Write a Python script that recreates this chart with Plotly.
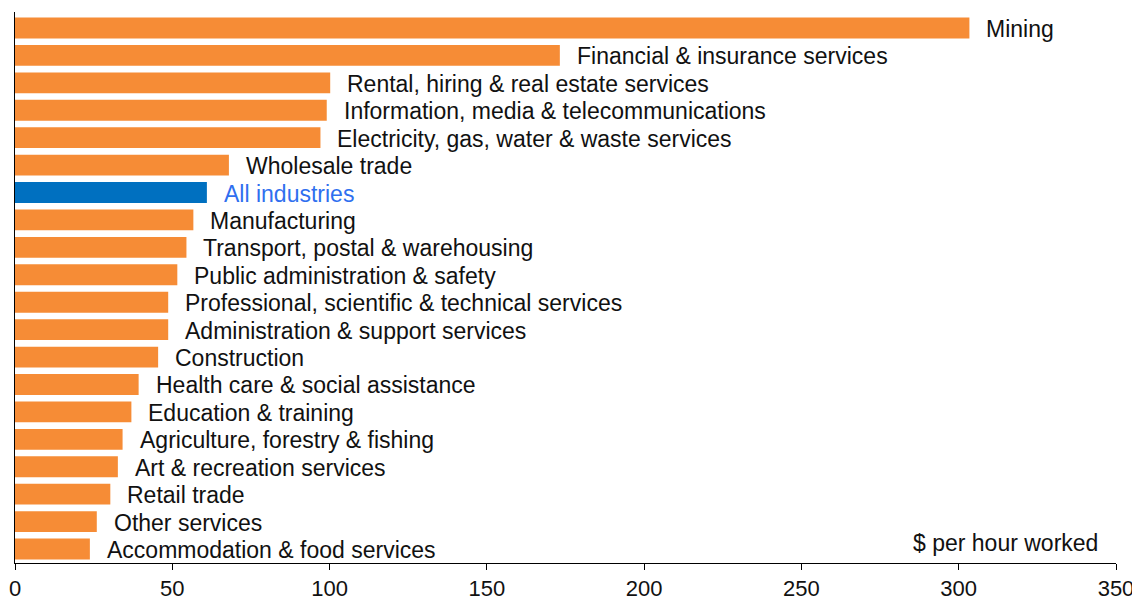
import plotly.graph_objects as go

industries = [
    "Mining",
    "Financial & insurance services",
    "Rental, hiring & real estate services",
    "Information, media & telecommunications",
    "Electricity, gas, water & waste services",
    "Wholesale trade",
    "All industries",
    "Manufacturing",
    "Transport, postal & warehousing",
    "Public administration & safety",
    "Professional, scientific & technical services",
    "Administration & support services",
    "Construction",
    "Health care & social assistance",
    "Education & training",
    "Agriculture, forestry & fishing",
    "Art & recreation services",
    "Retail trade",
    "Other services",
    "Accommodation & food services",
]
values = [303.4, 173.2, 100.2, 99.1, 97.1, 68.0, 61.0, 56.7, 54.5, 51.6,
          48.7, 48.7, 45.5, 39.3, 37.0, 34.2, 32.7, 30.3, 26.0, 23.8]
highlight = "All industries"
x_ticks = [0, 50, 100, 150, 200, 250, 300, 350]
unit_label = "$ per hour worked"

ORANGE = "#F68C36"
BLUE = "#0070C0"
LABEL_BLUE = "#2F6FEF"
FONT = "Liberation Sans, Arial, sans-serif"

bar_colors = [BLUE if c == highlight else ORANGE for c in industries]

fig = go.Figure()
fig.add_trace(go.Bar(
    x=values, y=industries, orientation="h",
    marker=dict(color=bar_colors, line=dict(width=0)),
    hoverinfo="x+y",
))

for name, v in zip(industries, values):
    fig.add_annotation(
        x=v, y=name, xref="x", yref="y", text=name, showarrow=False,
        xanchor="left", yanchor="middle", xshift=15, yshift=-1,
        font=dict(family=FONT, size=23,
                  color=LABEL_BLUE if name == highlight else "#111111"),
    )

fig.add_annotation(
    x=1.0, y=0.0, xref="paper", yref="paper", text=unit_label, showarrow=False,
    xanchor="right", yanchor="bottom", xshift=-16, yshift=5,
    font=dict(family=FONT, size=23, color="#111111"),
)

fig.update_layout(
    width=1132, height=599,
    margin=dict(l=7, r=24, t=4, b=44, autoexpand=False),
    plot_bgcolor="white", paper_bgcolor="white",
    bargap=0.24,
    showlegend=False,
    font=dict(family=FONT, size=23, color="#111111"),
    xaxis=dict(
        range=[0, 350], tickvals=x_ticks, ticktext=[str(t) for t in x_ticks],
        showgrid=False, zeroline=False, automargin=False,
        showline=True, linecolor="#000000", linewidth=1,
        ticks="outside", ticklen=6, tickcolor="#000000", tickwidth=1,
        tickfont=dict(family=FONT, size=22, color="#111111"),
        fixedrange=True,
    ),
    yaxis=dict(
        categoryorder="array", categoryarray=industries, autorange="reversed",
        showticklabels=False, showgrid=False, zeroline=False, automargin=False,
        showline=True, linecolor="#000000", linewidth=1, ticks="",
        fixedrange=True,
    ),
)

fig.write_html("out.html")
